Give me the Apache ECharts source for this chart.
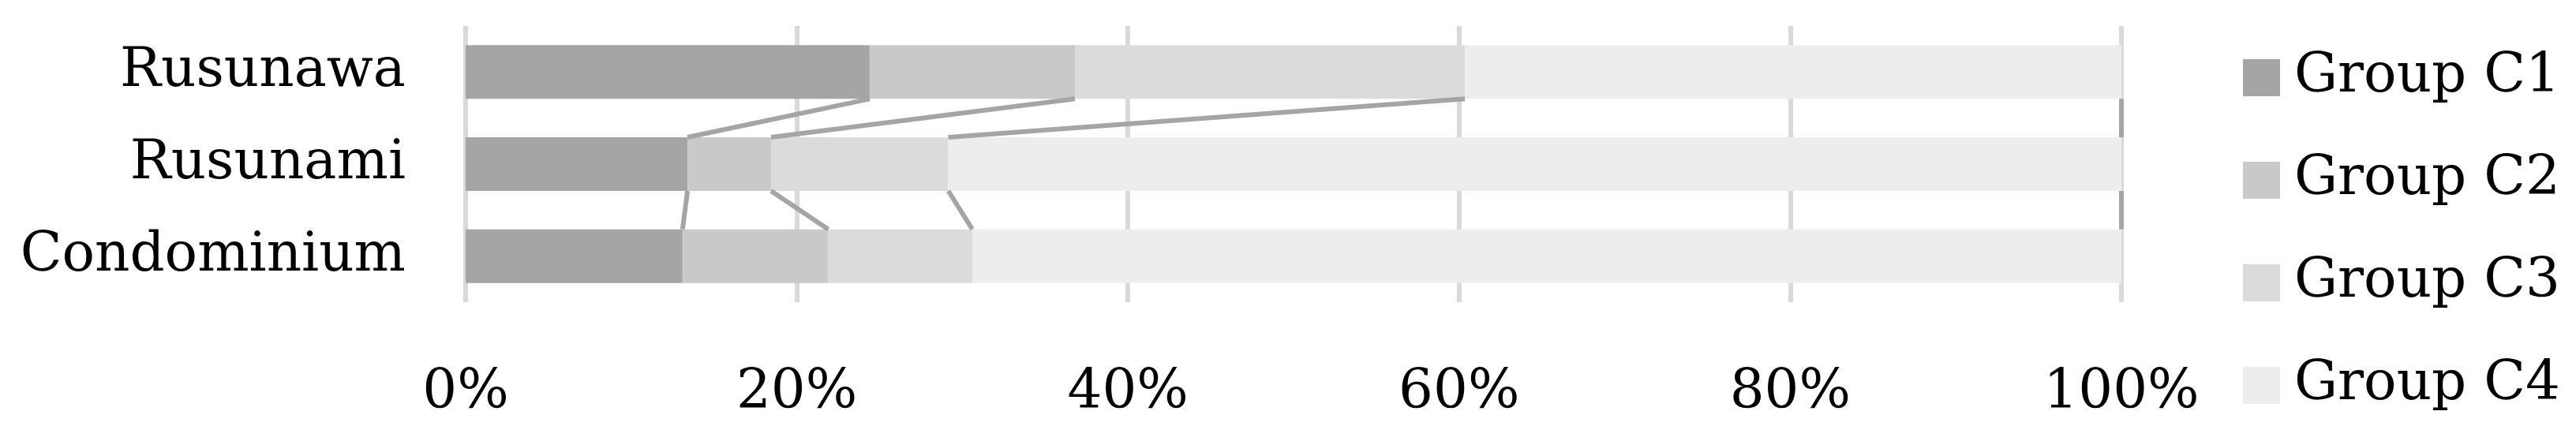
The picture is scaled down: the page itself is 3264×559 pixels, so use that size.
<!DOCTYPE html>
<html>
<head>
<meta charset="utf-8">
<script src="https://cdn.jsdelivr.net/npm/echarts@6/dist/echarts.min.js"></script>
<style>
html,body{margin:0;padding:0;background:#fff;}
#chart{width:3264px;height:559px;}
</style>
</head>
<body>
<div id="chart"></div>
<script>
var categories = ['Rusunawa', 'Rusunami', 'Condominium'];
var seriesNames = ['Group C1', 'Group C2', 'Group C3', 'Group C4'];
var groupC1 = [24.4, 13.4, 13.1];
var groupC2 = [12.4, 5.05, 8.8];
var groupC3 = [23.55, 10.7, 8.7];
var groupC4 = [39.65, 70.85, 69.4];
var xTicks = [0, 20, 40, 60, 80, 100];
var colors = ['#a5a5a5', '#c9c9c9', '#dbdbdb', '#ededed'];

var FONT = 'DejaVu Serif';
var FS = 69;
var BAR_FRAC = 0.583;

var groups = [groupC1, groupC2, groupC3, groupC4];
// cumulative boundaries per category
var cum = categories.map(function (c, i) {
  var s = 0;
  return groups.map(function (g) { s += g[i]; return s; });
});
var lineData = [];
for (var i = 0; i < categories.length - 1; i++) {
  for (var k = 0; k < groups.length; k++) {
    lineData.push([i, k]);
  }
}

var chart = echarts.init(document.getElementById('chart'), null, {renderer: 'canvas'});
var series = groups.map(function (g, idx) {
  return {
    name: seriesNames[idx],
    type: 'bar',
    stack: 'total',
    data: g,
    barCategoryGap: (100 - BAR_FRAC * 100) + '%',
    itemStyle: {color: colors[idx]},
    emphasis: {disabled: true},
    z: 2
  };
});
series.push({
  type: 'custom',
  name: 'serieslines',
  data: lineData,
  z: 5,
  silent: true,
  renderItem: function (params, api) {
    var i = api.value(0), k = api.value(1);
    var pA = api.coord([cum[i][k], i]);
    var pB = api.coord([cum[i + 1][k], i + 1]);
    var band = api.size([0, 1])[1];
    var h = band * BAR_FRAC / 2;
    return {
      type: 'line',
      shape: {x1: pA[0], y1: pA[1] + h, x2: pB[0], y2: pB[1] - h},
      style: {stroke: '#a5a5a5', lineWidth: 6}
    };
  }
});

chart.setOption({
  animation: false,
  backgroundColor: '#ffffff',
  grid: {left: 590, right: 576, top: 33, bottom: 176, containLabel: false},
  legend: {
    orient: 'vertical',
    left: 2837,
    top: 52,
    itemWidth: 47,
    itemHeight: 47,
    itemGap: 47,
    icon: 'rect',
    data: seriesNames,
    textStyle: {fontFamily: FONT, fontSize: FS, color: '#000', lineHeight: 83, padding: [0, 0, 0, 13]}
  },
  xAxis: {
    type: 'value',
    min: 0,
    max: 100,
    interval: 20,
    axisLine: {show: false},
    axisTick: {show: false},
    splitLine: {show: true, lineStyle: {color: '#d9d9d9', width: 6}},
    axisLabel: {
      formatter: function (v) { return v + '%'; },
      fontFamily: FONT, fontSize: FS, color: '#000', margin: 82,
      customValues: xTicks
    }
  },
  yAxis: {
    type: 'category',
    data: categories,
    inverse: true,
    axisLine: {show: false},
    axisTick: {show: false},
    axisLabel: {fontFamily: FONT, fontSize: FS, color: '#000', margin: 76}
  },
  series: series
});
</script>
</body>
</html>
